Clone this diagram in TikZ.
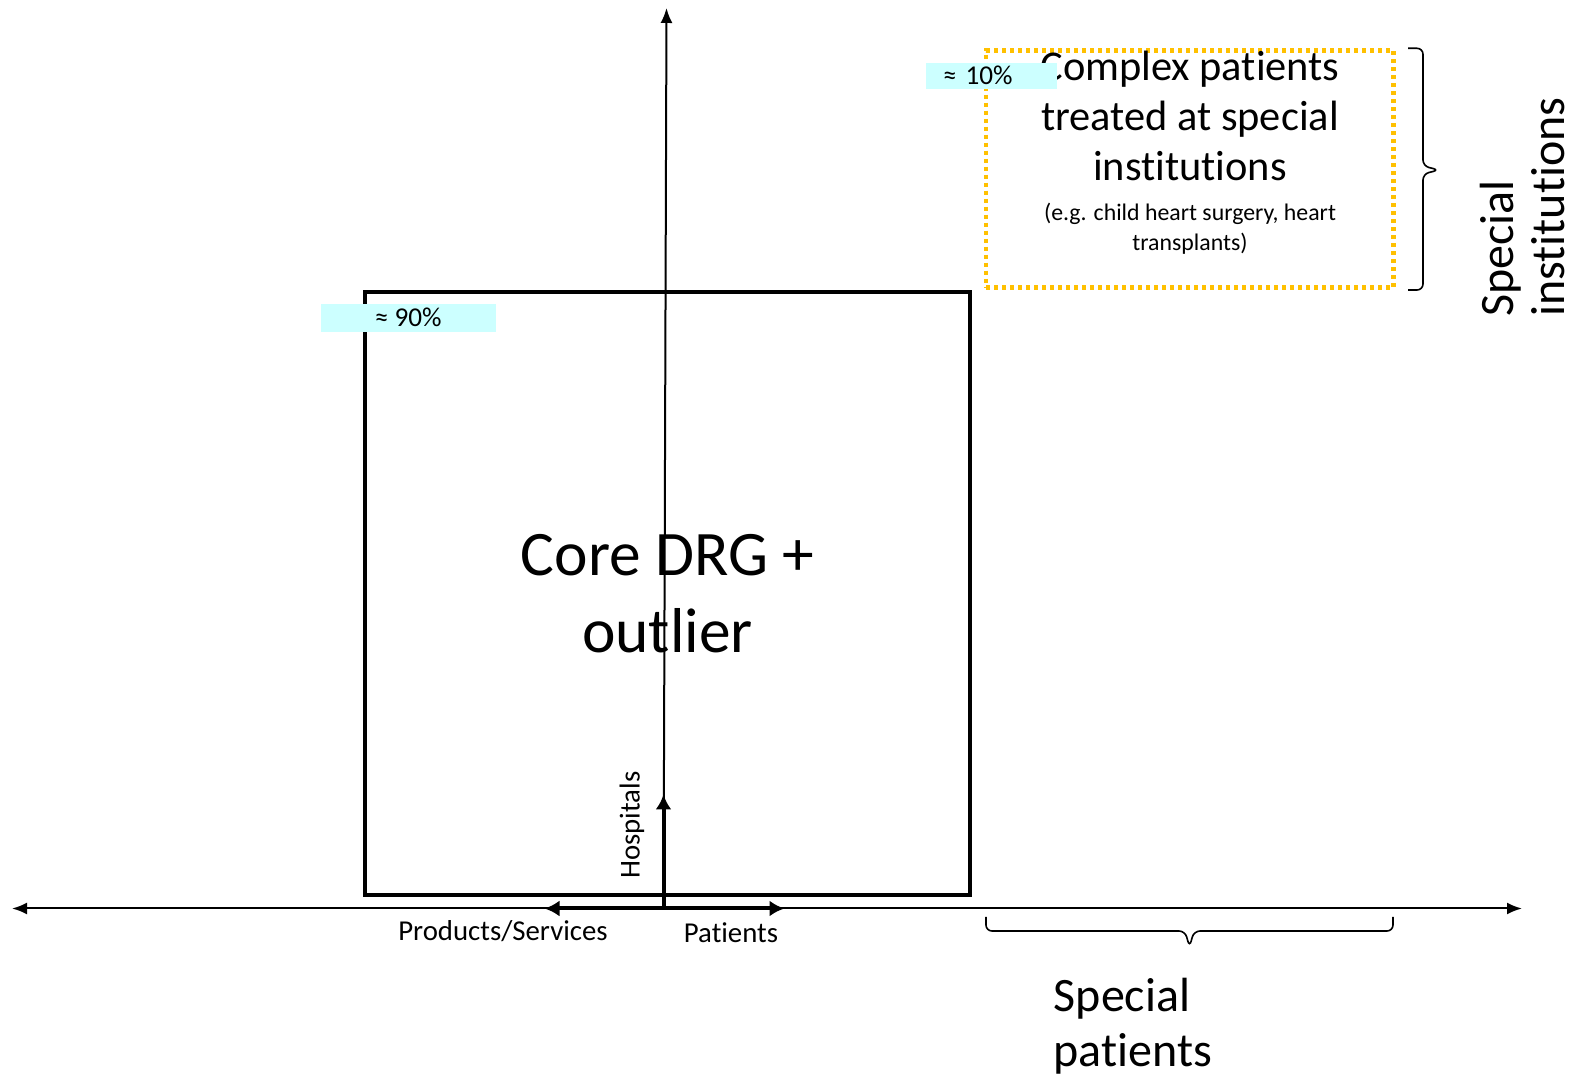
\documentclass[tikz,border=0pt]{standalone}
\usepackage{fontspec}
\setmainfont{Carlito}[RawFeature={-liga;-clig;-calt;-dlig}]
\usepackage{tikz}
\usetikzlibrary{arrows.meta}
\definecolor{pctcyan}{HTML}{CCFFFF}
\definecolor{dotorange}{HTML}{FFC000}
\newcommand{\fsz}[2]{\fontsize{#1}{#2}\selectfont}

\begin{document}
\begin{tikzpicture}[x=0.5pt,y=0.5pt,>={Latex[length=7.5pt,width=6pt]},
  pct/.style={fill=pctcyan,inner sep=0pt,minimum height=#1,font=\fsz{13.6}{16}},
  brc/.style={line width=0.8pt,rounded corners=3pt},
  thk/.style={line width=2pt,-{Latex[length=7.5pt,width=8pt]}}]
  \useasboundingbox (0,0) rectangle (1581,1077);
  \coordinate (xl) at (12,168.5);
  \coordinate (xr) at (1522,168.5);
  \coordinate (o) at (663.5,168.5);
  \coordinate (yt) at (666.5,1069);
  \draw[line width=1pt,<->] (xl) -- (xr);
  \node[draw,line width=2pt,inner sep=0pt,minimum width=302.5pt,minimum height=301.5pt,
    align=center,font=\fsz{31.7}{38.5}] (core) at (667.5,483.1) {Core DRG +\\outlier};
  \coordinate (hos) at (663.5,282.5);
  \coordinate (prod) at (544.5,168.5);
  \coordinate (pat) at (784.5,168.5);
  \draw[thk] (o) -- (hos);
  \draw[thk] (o) -- (prod);
  \draw[thk] (o) -- (pat);
  \draw[line width=1pt,->] (o) -- (yt);
  \node[rotate=90,font=\fsz{14.4}{17}] (hosl) at (632,252) {Hospitals};
  \node[font=\fsz{14.4}{17}] (prodl) at (503,146.3) {Products/Services};
  \node[font=\fsz{14.4}{17}] (patl) at (731,144.3) {Patients};
  \node[draw=dotorange,line width=2.3pt,dash pattern=on 2pt off 2pt,inner sep=0pt,
    minimum width=203.7pt,minimum height=118.5pt] (cplx) at (1189.7,908.1) {};
  \node[align=center,font=\fsz{21.2}{25}] (cplxt) at (1190,961) {Complex patients\\treated at special\\institutions};
  \node[align=center,font=\fsz{11.9}{15.2}] (cplxn) at (1190,848) {(e.g. child heart surgery, heart\\transplants)};
  \node[pct=14pt,minimum width=87.7pt] (p90) at (408.3,759.4) {≈ 90\%};
  \node[pct=13pt,text width=48.2pt,inner xsep=8.6pt,align=left] (p10) at (991.2,1001.4) {≈ 10\%};
  \coordinate (bit) at (1408,1028.7);
  \coordinate (bim) at (1439,907);
  \coordinate (bib) at (1408,787);
  \draw[brc] (bit) -- (1423,1028.7) -- (1423,911) -- (bim) -- (1423,903) -- (1423,787) -- (bib);
  \node[rotate=90,align=left,font=\fsz{24}{25.5}] (inst) at (1522,870) {Special\\institutions};
  \coordinate (bpl) at (986,160);
  \coordinate (bpm) at (1189.5,130);
  \coordinate (bpr) at (1393,160);
  \draw[brc] (bpl) -- (986,146) -- (1185,146) -- (bpm) -- (1194,146) -- (1393,146) -- (bpr);
  \node[anchor=west,align=left,font=\fsz{24}{27.7}] (spat) at (1046.7,51) {Special\\patients};
\end{tikzpicture}
\end{document}
